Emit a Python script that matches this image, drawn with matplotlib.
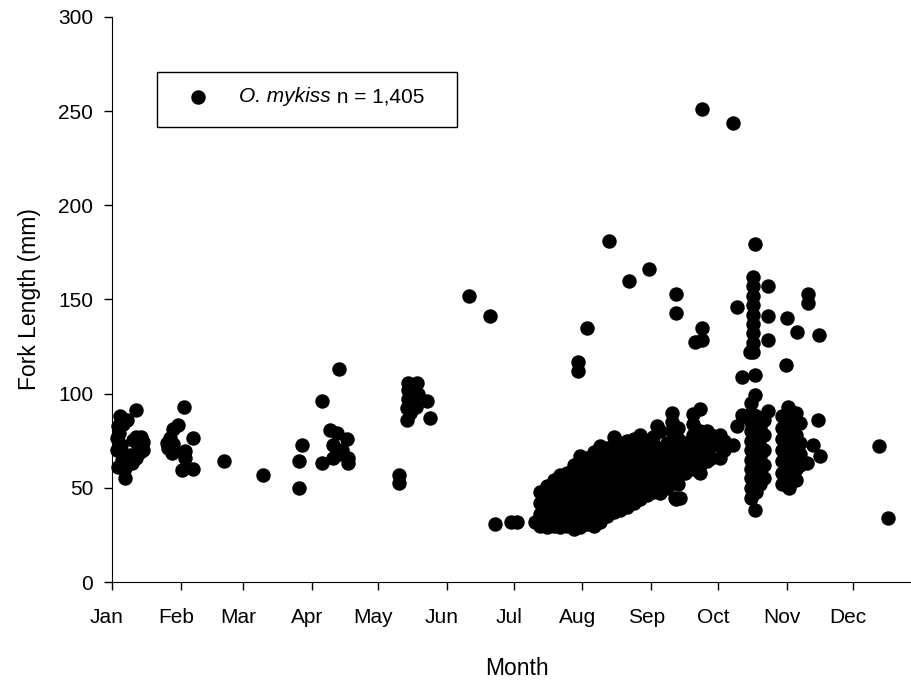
import matplotlib
matplotlib.use("Agg")
import matplotlib.pyplot as plt
import matplotlib.transforms as mtransforms
from matplotlib.patches import Rectangle

plt.rcParams['font.family'] = ['Liberation Sans', 'DejaVu Sans']

# fork lengths (mm) by day of year
jan_day = [10.7, 3.6, 6.6, 2.8, 2.1, 11.0, 11.7, 2.1, 12.6, 8.1, 4.4, 11.0, 2.8, 5.9, 5.9,
           9.6, 14.1, 14.1, 3.0, 4.0, 13.0, 9.0, 5.0]
jan_len = [91.5, 88, 86, 82.6, 76.6, 77, 72.9, 70, 69, 67.5, 65, 66, 61, 60.5, 55,
           75.5, 74.6, 70, 79, 73, 77, 63, 84]

feb_day = [32.4, 29.9, 27.6, 26.1, 25.4, 26.9, 36.3, 32.9, 32.9, 31.7, 36.6, 25.0, 27.5]
feb_len = [93, 83.5, 81, 76.6, 71, 68.6, 76.6, 69.3, 66, 59.6, 60, 74, 73.5]

mar_day = [50.5, 68.2]
mar_len = [64, 57]

apr_day = [85.5, 84.4, 84.4, 94.5, 102.3, 98.2, 101.3, 105.7, 99.7, 103.5, 94.5, 99.7,
           106.5, 106.5, 102.4]
apr_len = [72.9, 64, 49.8, 96, 113, 80.9, 79, 76, 73, 70, 63, 65.8, 63, 66, 68]

may_day = [129.3, 129.3, 133.5, 137.3, 133.5, 138, 141.8, 132.8, 136.9, 133, 143.3, 134.5, 133.5]
may_len = [57, 52.5, 105.7, 105.7, 102, 100, 96, 92.4, 93, 86, 87, 90, 97]

jun_day = [160.9, 170.3]
jun_len = [152, 141]

jul_day = [172.6, 180, 182.3, 190.6,
           193, 193, 193, 193,
           196, 196, 196, 196, 196,
           199, 199, 199, 199, 199,
           202, 202, 202, 202, 202, 202,
           205, 205, 205, 205, 205, 205,
           208, 208, 208, 208, 208, 208, 208,
           211, 211, 211, 211, 211, 211, 211, 211,
           209.8, 209.8]
jul_len = [30.8, 32, 32, 32,
           30, 36, 42, 48,
           29, 34, 40, 46, 51,
           30, 36, 42, 48, 54,
           29, 33, 39, 45, 51, 57,
           30, 36, 42, 48, 54, 58,
           28, 33, 39, 45, 51, 57, 62,
           29, 35, 41, 47, 53, 59, 65, 67,
           116.7, 112]

aug_day = [214, 214, 214, 214, 214, 214, 214,
           217, 217, 217, 217, 217, 217, 217, 217,
           220, 220, 220, 220, 220, 220, 220, 220,
           223, 223, 223, 223, 223, 223, 223,
           226, 226, 226, 226, 226, 226, 226, 226,
           229, 229, 229, 229, 229, 229, 229,
           232, 232, 232, 232, 232, 232, 232,
           235, 235, 235, 235, 235, 235, 235,
           238, 238, 238, 238, 238, 238, 238,
           241, 241, 241, 241, 241, 241,
           213.9, 224, 233, 242]
aug_len = [31, 37, 43, 49, 55, 61, 66,
           30, 34, 40, 46, 52, 58, 64, 69,
           32, 38, 44, 50, 56, 62, 68, 72,
           35, 41, 47, 53, 59, 65, 71,
           37, 43, 49, 55, 61, 67, 73, 77,
           38, 44, 50, 56, 62, 68, 74,
           40, 46, 52, 58, 64, 70, 75,
           42, 48, 54, 60, 66, 72, 76,
           44, 50, 56, 62, 68, 74, 78,
           46, 52, 58, 64, 70, 75,
           135, 181, 160, 166]

sep_day = [244, 244, 244, 244, 244, 244,
           247, 247, 247, 247, 247, 247,
           250, 250, 250, 250, 250,
           252.2, 252.2, 252.2, 252.2, 252.2, 252.2, 252.2, 252.2,
           245.7,
           255, 255, 255, 255, 255, 255,
           258, 258, 258, 258,
           262, 262, 262, 262, 262, 262,
           265, 265, 265, 265, 265, 265,
           268, 268, 268, 268,
           270, 270, 270,
           254, 254, 254, 253.7, 256,
           265.7, 265.7, 265.7, 262.7]
sep_len = [48, 54, 60, 66, 72, 77,
           47, 53, 59, 65, 71, 80,
           50, 56, 62, 68, 74,
           55, 60, 65, 70, 75, 80, 85, 89.7,
           82.6,
           52, 58, 64, 70, 76, 82,
           58, 63, 68, 74,
           60, 66, 72, 78, 84, 89,
           58, 62, 68, 74, 80, 92,
           64, 70, 74, 80,
           66, 72, 78,
           44, 153, 143, 44.5, 44.7,
           135, 128.7, 251, 127.5]

oct_day = [274, 274, 274, 276, 276, 279.7, 280, 281.5, 281.5, 283.7, 283.7, 285.2,
           288, 288, 288, 288, 288, 288, 288, 288, 288, 288, 288,
           289.8, 289.8, 289.8, 289.8,
           290, 290, 290, 290, 290, 290, 290, 290, 290,
           292, 292, 292, 292, 292, 292, 292,
           294, 294, 294, 294, 294, 295.8,
           289, 289, 289, 289, 289, 289, 289, 289, 289,
           295.8, 295.8, 295.8, 287.5, 288.2]
oct_len = [66, 72, 78, 70, 75, 243.6, 73, 82.6, 146, 88.8, 109, 88,
           44.5, 50, 55, 60, 65, 70, 75, 80, 85, 90, 95,
           38, 99.5, 110, 179.3,
           48, 53, 58, 63, 68, 73, 78, 83, 88,
           52, 57, 62, 67, 72, 77, 82,
           55, 62, 70, 78, 86, 90.6,
           122, 127, 132, 137, 142, 147, 152, 157, 162,
           157, 141, 128.7, 122, 123.4]

nov_day = [304, 308.5, 313.8, 313.8, 318.8, 303.7, 304.8,
           302, 302, 302, 302, 302, 302, 302,
           305, 305, 305, 305, 305, 305, 305, 305,
           308, 308, 308, 308, 308, 308, 308,
           310, 310, 310, 310,
           316, 318.3, 319, 313]
nov_len = [140, 133, 152.7, 148, 131.4, 115, 93,
           52, 58, 64, 70, 76, 82, 88,
           50, 56, 62, 68, 74, 80, 86, 91.5,
           54, 60, 66, 72, 78, 84, 89.7,
           62, 68, 74, 84.4,
           73, 86, 66.7, 63]

dec_day = [345.6, 349.6]
dec_len = [72, 34]

month_start = [0, 31, 59, 90, 120, 151, 181, 212, 243, 273, 304, 334]
month_names = ['Jan', 'Feb', 'Mar', 'Apr', 'May', 'Jun', 'Jul', 'Aug', 'Sep', 'Oct', 'Nov', 'Dec']

fig = plt.figure(figsize=(9.12, 6.81), dpi=100)
W, H = 912, 681
ax = fig.add_axes([112 / W, (H - 582) / H, 810 / W, 565 / H])

days = jan_day + feb_day + mar_day + apr_day + may_day + jun_day + jul_day + aug_day + sep_day + oct_day + nov_day + dec_day
lens = jan_len + feb_len + mar_len + apr_len + may_len + jun_len + jul_len + aug_len + sep_len + oct_len + nov_len + dec_len
ax.plot(days, lens, 'o', color='black', markersize=9.4, clip_on=False)

ax.set_xlim(0, 365)
ax.set_ylim(0, 300)
ax.set_xticks(month_start)
ax.set_xticklabels(month_names)
ax.set_yticks(range(0, 301, 50))
ax.spines['top'].set_visible(False)
ax.spines['right'].set_visible(False)
ax.tick_params(direction='out', length=6, width=1, labelsize=15, color='black')
ax.tick_params(axis='y', pad=7.5)
ax.tick_params(axis='x', pad=13)
shift = mtransforms.ScaledTranslation(-5 / 100, 0, fig.dpi_scale_trans)
for lab in ax.get_xticklabels():
    lab.set_transform(lab.get_transform() + shift)

ax.set_xlabel('Month', fontsize=16.5, labelpad=21)
ax.set_ylabel('Fork Length (mm)', fontsize=16.5, labelpad=12)

# legend box
fig.patches.append(Rectangle((157 / W, 1 - 127 / H), 300 / W, 55 / H, transform=fig.transFigure,
                             facecolor='white', edgecolor='black', linewidth=1))
fig.lines.append(plt.Line2D([198 / W], [1 - 97 / H], marker='o', color='black', markersize=9.4,
                            transform=fig.transFigure))
species = fig.text(239 / W, 1 - 97 / H, 'O. mykiss', fontsize=15, style='italic',
                   va='center', ha='left')
fig.canvas.draw()
bb = species.get_window_extent()
fig.text(bb.x1 / W, 1 - 97 / H, ' n = 1,405', fontsize=15, va='center', ha='left')

fig.savefig('out.png', dpi=100)
